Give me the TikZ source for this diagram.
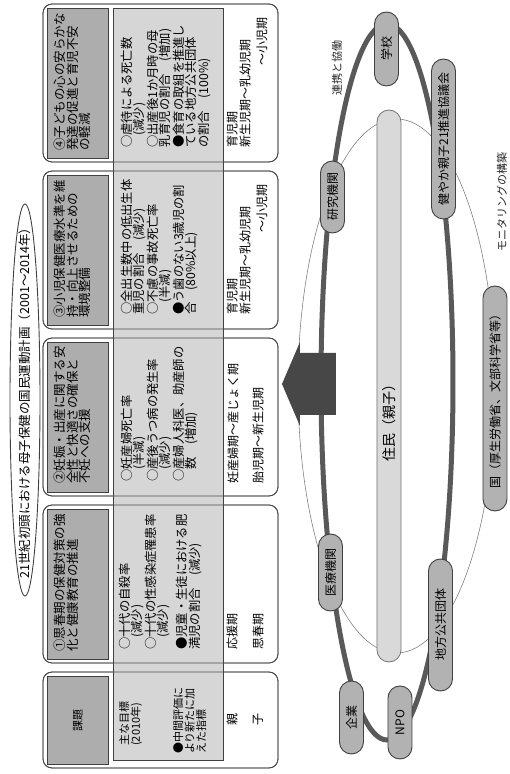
\documentclass[tikz,border=0pt]{standalone}
\usepackage{fontspec}
\setmainfont{Noto Sans CJK JP}
\usetikzlibrary{shapes.misc}

\tikzset{
  colbox/.style={draw=black!70, line width=0.8pt, rounded corners=9pt},
  headbox/.style={draw=black!75, fill=black!32, line width=0.8pt},
  band/.style={draw=black!75, fill=black!16, line width=0.7pt},
  headtxt/.style={anchor=north west, inner sep=0pt, align=left, font=\fontsize{12.5}{12.5}\selectfont},
  goaltxt/.style={anchor=north west, inner sep=0pt, align=left, font=\fontsize{12.3}{12.3}\selectfont},
  periodtxt/.style={anchor=west, inner sep=0pt, font=\fontsize{12}{12}\selectfont},
  pill/.style={rounded rectangle, draw=black!75, fill=black!30, line width=0.9pt,
    minimum height=24pt, inner xsep=4pt, inner ysep=0pt, font=\fontsize{12}{12}\selectfont},
  note/.style={inner sep=0pt, text=black!85, font=\fontsize{11}{11}\selectfont},
}

\begin{document}
\begin{tikzpicture}[x=1pt, y=1pt, rotate=90, transform shape]
  \useasboundingbox (0,0) rectangle (774,509);

  % title
  \node[inner sep=0pt, font=\fontsize{12.5}{12.5}\selectfont] (title) at (374,484)
    {21世紀初頭における母子保健の国民運動計画（2001～2014年）};
  \draw[draw=black!75, line width=0.9pt] (title.center) ellipse [x radius=196, y radius=15];

  % columns
  \draw[colbox, fill=white] (6,231) rectangle (102,466);
  \foreach \x in {111,278,445,612}
    \draw[colbox, fill=white] (\x,231) rectangle ++(158,235);
  \draw[band] (14,286) rectangle (766,396);
  \draw[colbox] (6,231) rectangle (102,466);
  \foreach \x in {111,278,445,612}
    \draw[colbox] (\x,231) rectangle ++(158,235);
  \draw[headbox] (10,401) rectangle (98,462);
  \foreach \x in {111,278,445,612}
    \draw[headbox] (\x+4,401) rectangle ++(150,61);

  % column 0
  \node[inner sep=0pt, font=\fontsize{11}{11}\selectfont] (task) at (54,431) {課題};
  \node[goaltxt, font=\fontsize{11}{11.5}\selectfont] (goal0) at (28,390) {主な目標\\(2010年)};
  \node[goaltxt, font=\fontsize{11}{11.5}\selectfont] (extra0) at (20,336) {●中間評価に\\より新たに加\\えた指標};
  \node[periodtxt, anchor=center] (parent0) at (54,277) {親};
  \node[periodtxt, anchor=center] (child0) at (54,251) {子};

  % column 1
  \node[headtxt] (head1) at (122,455) {①思春期の保健対策の強\\化と健康教育の推進};
  \node[goaltxt] (goal1) at (124,390)
    {○十代の自殺率\\\quad(減少)\\○十代の性感染症罹患率\\\quad(減少)\\[5pt]●児童・生徒における肥\\満児の割合　(減少)};
  \node[periodtxt] (parent1) at (124,277) {応援期};
  \node[periodtxt] (child1) at (124,251) {思春期};

  % column 2
  \node[headtxt] (head2) at (290,455) {②妊娠・出産に関する安\\全性と快適さの確保と\\不妊への支援};
  \node[goaltxt] (goal2) at (292,388)
    {○妊産婦死亡率\\\quad(半減)\\○産後うつ病の発生率\\\quad(減少)\\○産婦人科医、助産師の\\\quad 数　(増加)};
  \node[periodtxt] (parent2) at (290,276) {妊産婦期～産じょく期};
  \node[periodtxt] (child2) at (290,251) {胎児期～新生児期};

  % column 3
  \node[headtxt] (head3) at (456,455) {③小児保健医療水準を維\\持・向上させるための\\環境整備};
  \node[goaltxt] (goal3) at (459,388)
    {○全出生数中の低出生体\\重児の割合　(減少)\\○不慮の事故死亡率\\\quad(半減)\\●う歯のない3歳児の割\\合　(80\%以上)};
  \node[periodtxt] (parent3) at (459,277) {育児期};
  \node[periodtxt] (child3) at (459,264) {新生児期～乳幼児期};
  \node[periodtxt, anchor=east] (child3b) at (590,247) {～小児期};

  % column 4
  \node[headtxt] (head4) at (623,455) {④子どもの心の安らかな\\発達の促進と育児不安\\の軽減};
  \node[goaltxt] (goal4) at (626,388)
    {○虐待による死亡数\\\quad(減少)\\○出産後1か月時の母\\乳育児の割合　(増加)\\●食育の取組を推進し\\ている地方公共団体\\の割合　(100\%)};
  \node[periodtxt] (parent4) at (626,277) {育児期};
  \node[periodtxt] (child4) at (626,264) {新生児期～乳幼児期};
  \node[periodtxt, anchor=east] (child4b) at (757,247) {～小児期};

  % network
  \draw[draw=black!50, line width=0.6pt] (388,112.5) ellipse [x radius=267, y radius=98.5];
  \draw[draw=black!65, line width=5pt] (392,122) ellipse [x radius=358, y radius=66];
  \node[rounded rectangle, draw=black!55, fill=black!15, line width=0.8pt,
    minimum width=552pt, minimum height=24pt, inner sep=0pt] (resident) at (388,120) {};
  \node[inner sep=0pt, font=\fontsize{14}{14}\selectfont] (residenttxt) at (354,120) {住民（親子）};
  \fill[black!72] (359,173) -- (421,173) -- (421,209) -- (432,209) -- (390,227)
    -- (348,209) -- (359,209) -- cycle;

  \node[pill, minimum width=82pt] (school) at (725,122.5) {学校};
  \node[pill, minimum width=80pt] (lab) at (577,176.5) {研究機関};
  \node[pill, minimum width=168pt] (council) at (635,65.5) {健やか親子21推進協議会};
  \node[pill, minimum width=85pt] (hospital) at (201.5,178.5) {医療機関};
  \node[pill, minimum width=81pt] (firm) at (56.5,157.5) {企業};
  \node[pill, minimum width=81pt] (npo) at (51.5,109) {NPO};
  \node[pill, minimum width=140pt] (local) at (149,68.5) {地方公共団体};
  \node[pill, minimum width=233pt] (nation) at (375.5,14) {国（厚生労働省、文部科学省等）};

  \node[note] (coop) at (706,172) {連携と協働};
  \node[note] (monitor) at (572,7) {モニタリングの構築};
\end{tikzpicture}
\end{document}
